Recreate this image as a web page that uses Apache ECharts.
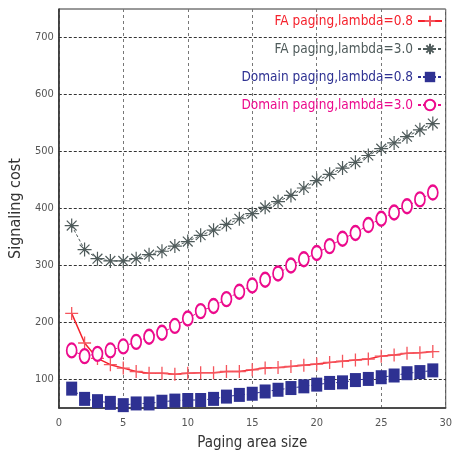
<!DOCTYPE html>
<html><head><meta charset="utf-8">
<script src="https://cdn.jsdelivr.net/npm/echarts@6/dist/echarts.min.js"></script>
<style>html,body{margin:0;padding:0;background:#fff}#c{width:455px;height:456px}</style>
</head><body><div id="c"></div>
<script>
const xValues = [1,2,3,4,5,6,7,8,9,10,11,12,13,14,15,16,17,18,19,20,21,22,23,24,25,26,27,28,29];
const faLambda08 = [216,164,137,126,120,114,111,111,109,111,112,112,114,114,117,120,121,123,125,127,130,132,134,136,141,143,146,147,149];
const faLambda30 = [370,328,312,308,308,312,319,325,334,342,353,362,372,382,391,402,412,423,436,449,460,471,481,493,505,515,526,538,549];
const domLambda08 = [84,66,62,59,55,58,58,61,63,64,64,66,70,73,75,79,82,85,88,91,94,95,99,101,104,107,111,113,116];
const domLambda30 = [151,141,145,151,158,166,175,182,194,207,220,229,241,254,265,275,286,300,311,322,334,347,357,371,382,393,404,416,428];
const seriesNames = ['FA paging,lambda=0.8','FA paging,lambda=3.0','Domain paging,lambda=0.8','Domain paging,lambda=3.0'];
const yTicks = [100,200,300,400,500,600,700];
const xTicks = [0,5,10,15,20,25,30];

const FONT = '"Liberation Sans Narrow","DejaVu Sans Condensed","Liberation Sans",sans-serif';
const colors = ['#f5222d','#4f5b5b','#2e3192','#ec0a8c'];
const pair = a => a.map((v,i)=>[xValues[i],v]);
const plusPath = 'path://M5,0L5,10M0,5L10,5';
const starPath = 'path://M5,0L5,10M0,5L10,5M1.5,1.5L8.5,8.5M1.5,8.5L8.5,1.5';

function legend(i, top){
  return {orient:'vertical', right:12, top:top, align:'right', itemWidth:24, itemHeight:13,
    data:[seriesNames[i]], textStyle:{color:colors[i], fontFamily:FONT, fontSize:13.5}, padding:0, itemGap:0};
}
const chart = echarts.init(document.getElementById('c'), null, {renderer:'canvas'});
chart.setOption({
  animation:false,
  color:colors,
  grid:{left:53, right:5, top:9, bottom:44, show:true, borderColor:'#333', borderWidth:1, backgroundColor:'transparent'},
  legend:[legend(0,14),legend(1,42),legend(2,70),legend(3,98)],
  xAxis:{type:'value', min:0, max:30, interval:5,
    name:'Paging area size', nameLocation:'middle', nameGap:28,
    nameTextStyle:{fontFamily:FONT, fontSize:15, color:'#333'},
    axisLine:{show:true, onZero:false, lineStyle:{color:'#333', width:1.5}},
    axisTick:{show:false},
    axisLabel:{fontFamily:FONT, fontSize:11, color:'#555', margin:10},
    splitLine:{show:true, lineStyle:{color:'#777', type:[3,3], width:1}}
  },
  yAxis:{type:'value', min:50, max:750,
    name:'Signaling cost', nameLocation:'middle', nameGap:22,
    nameTextStyle:{fontFamily:FONT, fontSize:16, color:'#333'},
    axisLine:{show:true, lineStyle:{color:'#333', width:1.5}},
    axisTick:{show:false, customValues:yTicks},
    axisLabel:{fontFamily:FONT, fontSize:11, color:'#555', margin:5, customValues:yTicks},
    splitLine:{show:true, lineStyle:{color:'#333', type:[3,2], width:1}}
  },
  series:[
    {name:seriesNames[0], type:'line', data:pair(faLambda08), symbol:plusPath, symbolSize:13,
      lineStyle:{color:colors[0], width:1.5},
      itemStyle:{color:colors[0], borderColor:'#f5555d', borderWidth:1.3}},
    {name:seriesNames[1], type:'line', data:pair(faLambda30), symbol:starPath, symbolSize:14,
      lineStyle:{color:colors[1], width:1, type:[3,2]},
      itemStyle:{color:colors[1], borderColor:colors[1], borderWidth:1.2}},
    {name:seriesNames[2], type:'line', data:pair(domLambda08), symbol:'rect', symbolSize:[11,14],
      lineStyle:{color:colors[2], width:1, type:[3,2]},
      itemStyle:{color:colors[2], borderColor:colors[2], borderWidth:0}},
    {name:seriesNames[3], type:'line', data:pair(domLambda30), symbol:'emptyCircle', symbolSize:[10,14],
      lineStyle:{color:colors[3], width:1, type:[3,2]},
      itemStyle:{color:colors[3], borderColor:colors[3], borderWidth:1.2}}
  ]
});
</script></body></html>
